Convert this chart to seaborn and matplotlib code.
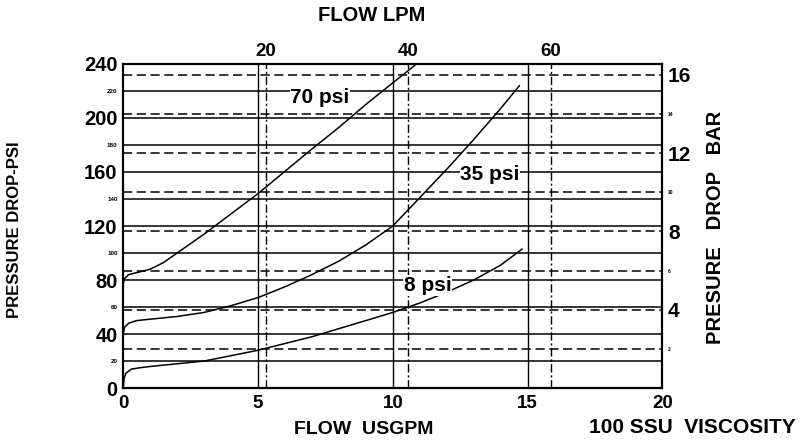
import numpy as np
import pandas as pd
import matplotlib
matplotlib.use("Agg")
import matplotlib.pyplot as plt
import seaborn as sns

# ---- unit conversions ----
PSI_PER_BAR = 14.5038
LPM_PER_GPM = 3.78541

# ---- curve data (flow in US GPM, pressure drop in psi) ----
flow_70 = [0.0, 0.05, 0.2, 0.5, 1.0, 1.5, 2.0, 3.0, 4.0, 5.0, 6.0, 7.0, 8.0, 9.0, 10.0, 10.88]
psi_70 = [77, 81, 84, 85.5, 88, 93, 100, 114, 129, 144, 160.5, 177, 193, 210, 226, 240]

flow_35 = [0.0, 0.05, 0.2, 0.5, 1.0, 2.0, 3.0, 4.0, 5.0, 6.0, 7.0, 8.0, 9.0, 10.0, 11.0, 12.0, 13.0, 14.0, 14.7]
psi_35 = [40, 45, 48, 50, 51, 53, 56, 61, 67, 75, 84, 94, 106, 120, 141, 162, 184, 207, 224]

flow_8 = [0.0, 0.03, 0.1, 0.3, 0.6, 1.0, 2.0, 3.0, 4.0, 5.0, 6.0, 7.0, 8.0, 9.0, 10.0, 11.0, 12.0, 13.0, 14.0, 14.8]
psi_8 = [0, 7, 11, 14, 15, 16, 18, 20, 24, 28, 33, 38, 44, 50, 56, 63, 71, 80, 91, 103]

curve_names = ["70 psi", "35 psi", "8 psi"]
label_flow = [7.3, 13.6, 11.3]
label_psi = [215, 158, 76]

# ---- axes ticks ----
psi_major = [0, 40, 80, 120, 160, 200, 240]
psi_minor = [20, 60, 100, 140, 180, 220]
bar_major = [4, 8, 12, 16]
bar_minor = [2, 6, 10, 14]
gpm_ticks = [0, 5, 10, 15, 20]
lpm_ticks = [20, 40, 60]
psi_grid = [20, 40, 60, 80, 100, 120, 140, 160, 180, 200, 220]
bar_grid = [2, 4, 6, 8, 10, 12, 14, 16]
gpm_grid = [5, 10, 15]

df = pd.concat([
    pd.DataFrame({"flow": flow_70, "psi": psi_70, "curve": "70 psi"}),
    pd.DataFrame({"flow": flow_35, "psi": psi_35, "curve": "35 psi"}),
    pd.DataFrame({"flow": flow_8, "psi": psi_8, "curve": "8 psi"}),
])

sns.set_theme(style="white")
plt.rcParams['font.family'] = ['Liberation Sans', 'DejaVu Sans']
plt.rcParams['font.weight'] = 'bold'
plt.rcParams['text.color'] = 'black'

fig = plt.figure(figsize=(8, 4.41), dpi=100)
ax = fig.add_axes([0.154, 0.120, 0.674, 0.735])

# grid lines
for p in psi_grid:
    ax.axhline(p, color="black", lw=1.1, zorder=1)
for b in bar_grid:
    ax.axhline(b * PSI_PER_BAR, color="black", lw=1.1, ls=(0, (6, 3)), zorder=1)
for g in gpm_grid:
    ax.axvline(g, color="black", lw=1.0, zorder=1)
for l in lpm_ticks:
    ax.axvline(l / LPM_PER_GPM, color="black", lw=1.0, ls=(0, (6, 2, 1.5, 2)), zorder=1)

sns.lineplot(data=df, x="flow", y="psi", units="curve", estimator=None,
             color="black", lw=1.1, sort=False, ax=ax, zorder=3)

for name, fx, fy in zip(curve_names, label_flow, label_psi):
    ax.text(fx, fy, name, fontsize=15, ha="center", va="center",
            bbox=dict(facecolor="white", edgecolor="none", pad=0.5), zorder=4)

ax.set_xlim(0, 20)
ax.set_ylim(0, 240)
ax.set_xlabel("")
ax.set_ylabel("")

for s in ax.spines.values():
    s.set_color("black")
    s.set_linewidth(1.6)

ax.set_xticks(gpm_ticks)
ax.set_xticklabels([str(v) for v in gpm_ticks], fontsize=13.5)
ax.set_yticks(psi_major)
ax.set_yticklabels([str(v) for v in psi_major], fontsize=14.5)
ax.set_yticks(psi_minor, minor=True)
ax.set_yticklabels([str(v) for v in psi_minor], minor=True, fontsize=4.5)
ax.tick_params(axis="both", which="both", length=0, pad=4, colors="black")
ax.tick_params(axis="x", pad=5)

sec_y = ax.secondary_yaxis("right", functions=(lambda p: p / PSI_PER_BAR,
                                                lambda b: b * PSI_PER_BAR))
sec_y.set_yticks(bar_major)
sec_y.set_yticklabels([str(v) for v in bar_major], fontsize=15)
sec_y.set_yticks(bar_minor, minor=True)
sec_y.set_yticklabels([str(v) for v in bar_minor], minor=True, fontsize=3.5)
sec_y.tick_params(axis="y", which="both", length=0, pad=4, colors="black")
sec_y.spines["right"].set_visible(False)

sec_x = ax.secondary_xaxis("top", functions=(lambda g: g * LPM_PER_GPM,
                                              lambda l: l / LPM_PER_GPM))
sec_x.set_xticks(lpm_ticks)
sec_x.set_xticklabels([str(v) for v in lpm_ticks], fontsize=13.5)
sec_x.tick_params(axis="x", length=0, pad=3, colors="black")
sec_x.spines["top"].set_visible(False)

fig.text(0.465, 0.965, "FLOW LPM", fontsize=14.5, ha="center", va="center")
fig.text(0.455, 0.025, "FLOW  USGPM", fontsize=14, ha="center", va="center")
fig.text(0.865, 0.03, "100 SSU  VISCOSITY", fontsize=15, ha="center", va="center")
fig.text(0.018, 0.48, "PRESSURE DROP-PSI", fontsize=12, ha="center", va="center", rotation=90)
fig.text(0.894, 0.485, "PRESURE   DROP   BAR", fontsize=14.5, ha="center", va="center", rotation=90)

fig.savefig("out.png", dpi=100, facecolor="white")
